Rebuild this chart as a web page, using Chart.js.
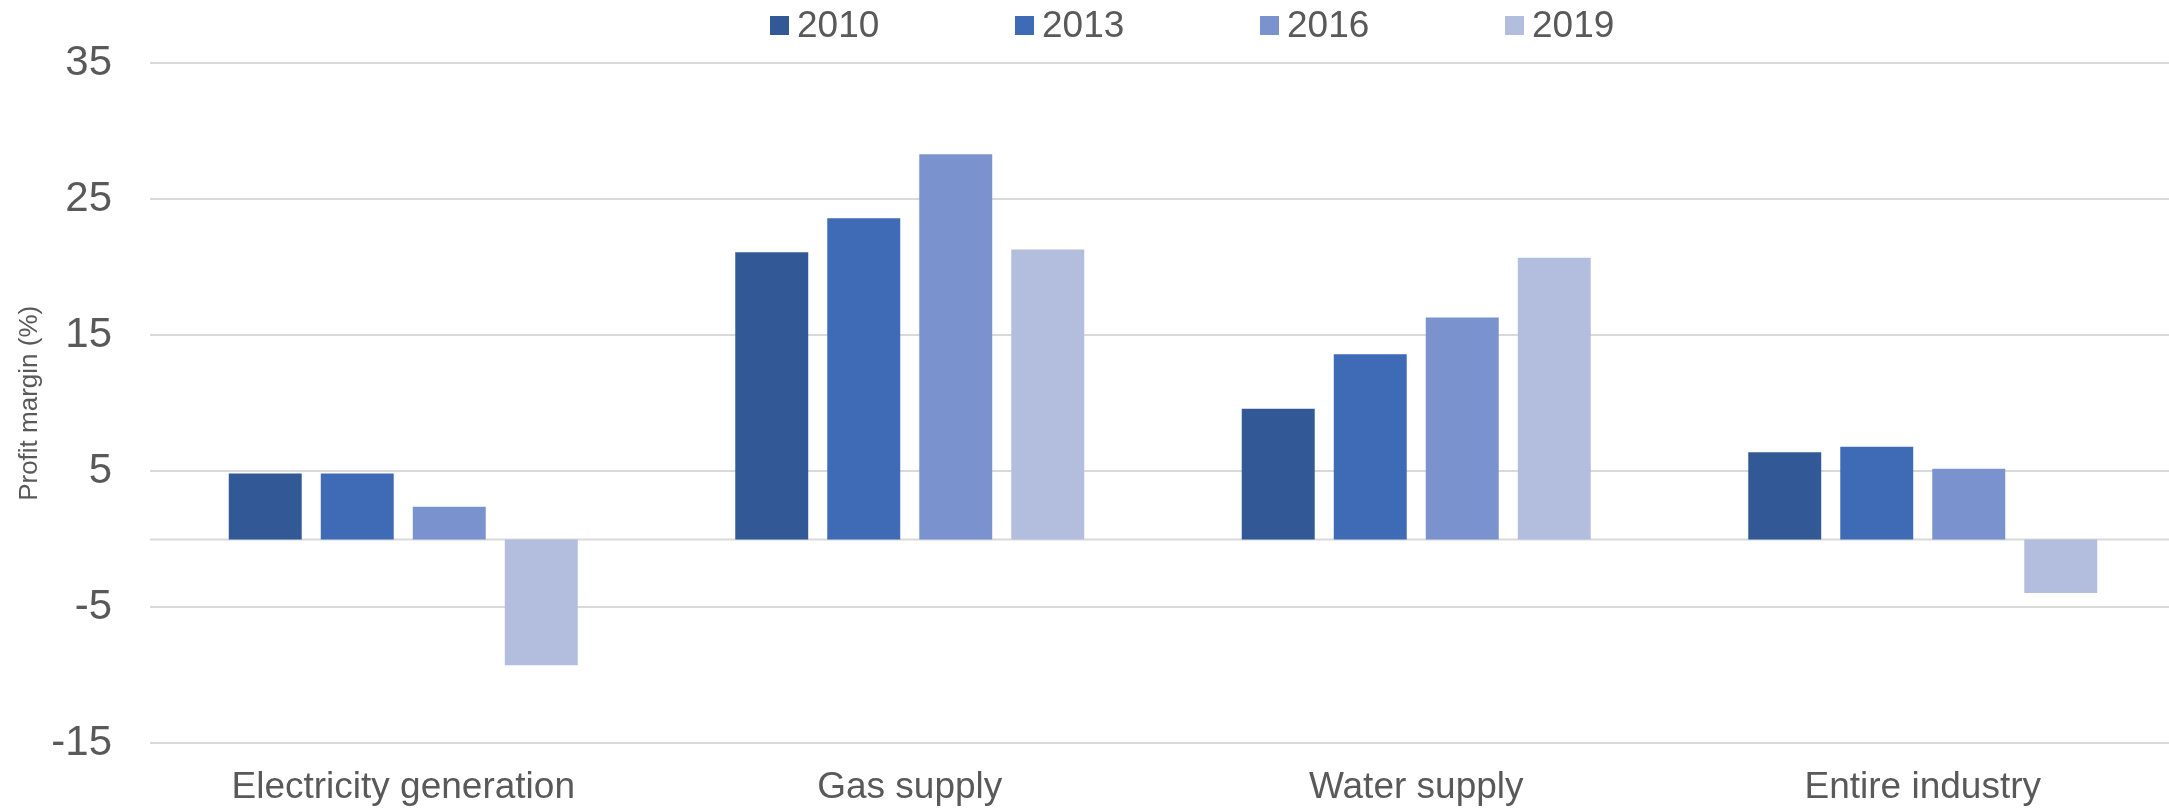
<!DOCTYPE html>
<html>
<head>
<meta charset="utf-8">
<script src="https://cdn.jsdelivr.net/npm/chart.js@4/dist/chart.umd.min.js"></script>
<style>
  html, body { margin: 0; padding: 0; background: #fff; overflow: hidden; }
  /* canvas runs a little past the window: the y tick overhang padding falls outside */
  #wrap { position: relative; width: 2176px; height: 832px; }
  #legend {
    position: absolute; left: 770px; top: 0; height: 50px;
    display: flex; align-items: center;
    font-family: "Liberation Sans", Arial, sans-serif; font-size: 37px; color: #595959;
  }
  #legend .item { display: flex; align-items: center; width: 245px; }
  #legend .box { width: 19px; height: 19px; margin-right: 8px; }
</style>
</head>
<body>
<div id="wrap">
  <canvas id="chart"></canvas>
  <div id="legend"></div>
</div>
<script>
const CATEGORIES = ["Electricity generation", "Gas supply", "Water supply", "Entire industry"];
const YEARS = ["2010", "2013", "2016", "2019"];
const COLORS = ["#325896", "#3e6ab6", "#7a92cd", "#b3bedf"];

const VALUES_2010 = [4.85, 21.1, 9.6, 6.4];
const VALUES_2013 = [4.85, 23.6, 13.6, 6.8];
const VALUES_2016 = [2.4, 28.3, 16.3, 5.2];
const VALUES_2019 = [-9.25, 21.3, 20.7, -3.95];

const Y_MIN = -15;
const Y_MAX = 35;
const Y_STEP = 10;

const FONT = "'Liberation Sans', Arial, sans-serif";
const TEXT_COLOR = "#595959";
const GRID_COLOR = "#d9d9d9";

const seriesValues = [VALUES_2010, VALUES_2013, VALUES_2016, VALUES_2019];

// zero line (category axis crosses at 0)
const zeroLine = {
  id: "zeroLine",
  beforeDatasetsDraw(chart) {
    const { ctx, chartArea, scales } = chart;
    const y = scales.y.getPixelForValue(0);
    ctx.save();
    ctx.strokeStyle = GRID_COLOR;
    ctx.lineWidth = 2;
    ctx.beginPath();
    ctx.moveTo(chartArea.left, y);
    ctx.lineTo(chartArea.right, y);
    ctx.stroke();
    ctx.restore();
  }
};

function buildLegend() {
  const el = document.getElementById("legend");
  YEARS.forEach((year, i) => {
    const item = document.createElement("div");
    item.className = "item";
    const box = document.createElement("span");
    box.className = "box";
    box.style.background = COLORS[i];
    const label = document.createElement("span");
    label.textContent = year;
    item.appendChild(box);
    item.appendChild(label);
    el.appendChild(item);
  });
}

document.addEventListener("DOMContentLoaded", () => {
  buildLegend();

  const ctx = document.getElementById("chart").getContext("2d");
  new Chart(ctx, {
    type: "bar",
    data: {
      labels: CATEGORIES,
      datasets: YEARS.map((year, i) => ({
        label: year,
        data: seriesValues[i],
        backgroundColor: COLORS[i],
        borderWidth: 0,
        categoryPercentage: 0.7266,
        barPercentage: 0.793
      }))
    },
    options: {
      responsive: true,
      maintainAspectRatio: false,
      animation: false,
      devicePixelRatio: 1,
      layout: { padding: { top: 62, left: 0, right: 0, bottom: 0 } },
      plugins: {
        legend: { display: false },
        tooltip: { enabled: false }
      },
      scales: {
        x: {
          grid: { display: false, drawTicks: false },
          border: { display: false },
          ticks: {
            color: TEXT_COLOR,
            padding: 23,
            maxRotation: 0,
            autoSkip: false,
            font: { size: 37, family: FONT, lineHeight: 1.15 }
          }
        },
        y: {
          min: Y_MIN,
          max: Y_MAX,
          afterFit(scale) { scale.width = 150; },
          grid: { color: GRID_COLOR, lineWidth: 2, drawTicks: false },
          border: { display: false },
          ticks: {
            stepSize: Y_STEP,
            color: TEXT_COLOR,
            padding: 38,
            font: { size: 42, family: FONT }
          },
          title: {
            display: true,
            text: "Profit margin (%)",
            color: TEXT_COLOR,
            padding: { top: 14, bottom: 0 },
            font: { size: 26, family: FONT, lineHeight: 1.2 }
          }
        }
      }
    },
    plugins: [zeroLine]
  });
});
</script>
</body>
</html>
